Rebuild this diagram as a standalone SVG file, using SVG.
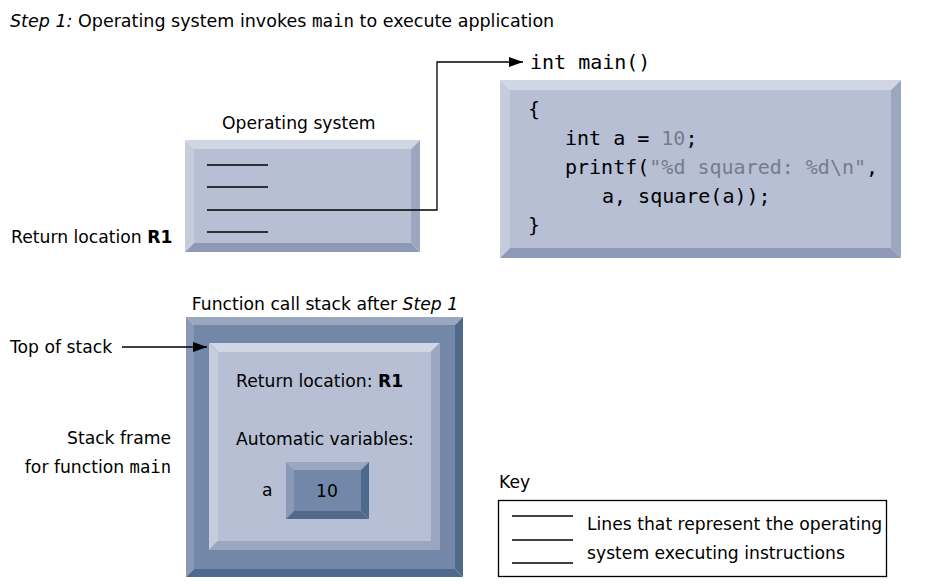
<svg xmlns="http://www.w3.org/2000/svg" width="930" height="585" viewBox="0 0 930 585">
<defs>
<marker id="ah" viewBox="0 0 14 10" refX="14" refY="5" markerWidth="14" markerHeight="10" markerUnits="userSpaceOnUse" orient="auto">
<path d="M0,0 L14,5 L0,10 z" fill="#000"/>
</marker>
</defs>
<style>
text{font-family:"DejaVu Sans","Liberation Sans",sans-serif;font-size:17.2px;fill:#000}
.title{font-size:17.5px}
.mono{font-family:"DejaVu Sans Mono","Liberation Mono",monospace}
.code{font-family:"DejaVu Sans Mono","Liberation Mono",monospace;font-size:20px}
.lit{fill:#767c88}
.b{font-weight:bold}
.it{font-style:italic}
.ln{stroke:#000;stroke-width:1.3;fill:none}
.conn{stroke:#000;stroke-width:1.3;fill:none}
.lt1{fill:#d0d6e4}.lt2{fill:#c5ccdc}.fc{fill:#b6bfd4}.dk1{fill:#9ba7c0}.dk2{fill:#8e9ab5}
.sTop{fill:#9aa7c1}.sLeft{fill:#8a99b6}.sFace{fill:#7388a8}.sDark{fill:#4e698c}
</style>
<rect width="930" height="585" fill="#fff"/>

<text class="title" x="10" y="27"><tspan class="it">Step 1:</tspan> Operating system invokes <tspan class="mono">main</tspan> to execute application</text>

<g id="os">
<text x="222" y="129">Operating system</text>
<polygon class="lt1" points="185,140 420,140 411,149 194,149"/>
<polygon class="lt2" points="185,140 194,149 194,243 185,252"/>
<polygon class="dk1" points="420,140 420,252 411,243 411,149"/>
<polygon class="dk2" points="185,252 420,252 411,243 194,243"/>
<rect class="fc" x="194" y="149" width="217" height="94"/>
<line class="ln" x1="207" y1="165" x2="268" y2="165"/>
<line class="ln" x1="207" y1="187" x2="268" y2="187"/>
<line class="ln" x1="207" y1="232" x2="268" y2="232"/>
</g>
<text x="11" y="243">Return location <tspan class="b">R1</tspan></text>

<g id="main">
<text class="code" x="530" y="69">int main()</text>
<polygon class="lt1" points="500,80 901,80 891,90 510,90"/>
<polygon class="lt2" points="500,80 510,90 510,248 500,258"/>
<polygon class="dk1" points="901,80 901,258 891,248 891,90"/>
<polygon class="dk2" points="500,258 901,258 891,248 510,248"/>
<rect class="fc" x="510" y="90" width="381" height="158"/>
<text class="code" x="528" y="116">{</text>
<text class="code" x="565" y="145">int a = <tspan class="lit">10</tspan>;</text>
<text class="code" x="565" y="174">printf(<tspan class="lit">"%d squared: %d\n"</tspan>,</text>
<text class="code" x="602" y="203">a, square(a));</text>
<text class="code" x="528" y="232">}</text>
</g>

<text x="325" y="310" text-anchor="middle">Function call stack after <tspan class="it">Step 1</tspan></text>
<text x="10" y="353">Top of stack</text>
<text x="171" y="444" text-anchor="end">Stack frame</text>
<text x="171" y="473" text-anchor="end">for function <tspan class="mono">main</tspan></text>

<g id="stack">
<polygon class="sTop" points="186,317 463,317 455,325 194,325"/>
<polygon class="sLeft" points="186,317 194,325 194,569 186,577"/>
<polygon class="sDark" points="463,317 463,577 455,569 455,325"/>
<polygon class="sDark" points="186,577 463,577 455,569 194,569"/>
<rect class="sFace" x="194" y="325" width="261" height="244"/>
</g>

<g id="frame">
<polygon class="lt1" points="209,343 440,343 431,352 218,352"/>
<polygon class="lt2" points="209,343 218,352 218,541 209,550"/>
<polygon class="dk1" points="440,343 440,550 431,541 431,352"/>
<polygon class="dk1" points="209,550 440,550 431,541 218,541"/>
<rect class="fc" x="218" y="352" width="213" height="189"/>
<text x="236" y="387">Return location: <tspan class="b">R1</tspan></text>
<text x="236" y="445">Automatic variables:</text>
<text x="262" y="496">a</text>
</g>

<g id="var-a">
<polygon class="sTop" points="286,462 369,462 361,470 294,470"/>
<polygon class="sLeft" points="286,462 294,470 294,511 286,519"/>
<polygon class="sDark" points="369,462 369,519 361,511 361,470"/>
<polygon class="sDark" points="286,519 369,519 361,511 294,511"/>
<rect class="sFace" x="294" y="470" width="67" height="41"/>
<text x="327" y="497" text-anchor="middle">10</text>
</g>

<g id="key">
<text x="499" y="488">Key</text>
<rect x="498.5" y="500.5" width="388" height="76" fill="none" stroke="#000" stroke-width="1.3"/>
<line class="ln" x1="512" y1="516" x2="573" y2="516"/>
<line class="ln" x1="512" y1="540" x2="573" y2="540"/>
<line class="ln" x1="512" y1="563" x2="573" y2="563"/>
<text x="587" y="530">Lines that represent the operating</text>
<text x="587" y="559">system executing instructions</text>
</g>

<g id="connectors">
<polyline class="conn" points="207,210 437,210 437,62 523,62" marker-end="url(#ah)"/>
<line class="conn" x1="122" y1="347" x2="207" y2="347" marker-end="url(#ah)"/>
</g>
</svg>
